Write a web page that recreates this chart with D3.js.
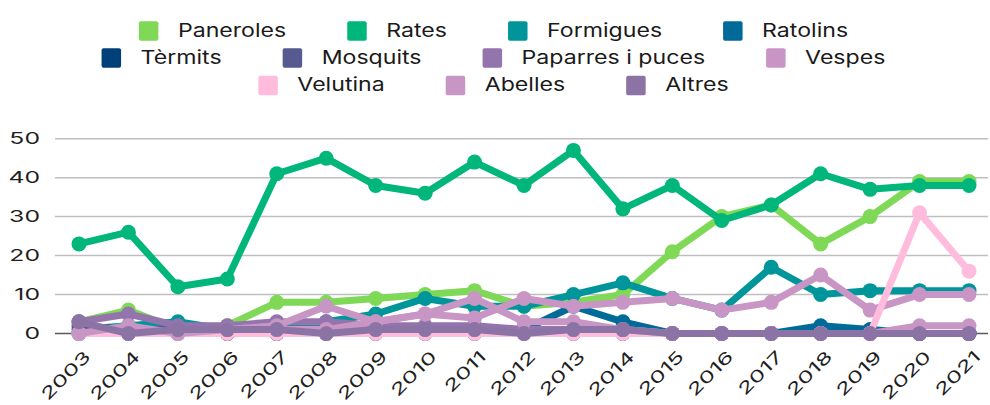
<!DOCTYPE html>
<html>
<head>
<meta charset="utf-8">
<script src="https://cdn.jsdelivr.net/npm/d3@7/dist/d3.min.js"></script>
<style>
  html, body { margin: 0; padding: 0; background: #ffffff; }
  svg { display: block; font-family: "Inter", "DejaVu Sans", sans-serif; }
</style>
</head>
<body>
<script>
// Pest control interventions per year and type
const years = ["2003","2004","2005","2006","2007","2008","2009","2010","2011","2012",
               "2013","2014","2015","2016","2017","2018","2019","2020","2021"];
const yTicks = [0, 10, 20, 30, 40, 50];

const seriesNames = ["Paneroles","Rates","Formigues","Ratolins","Tèrmits","Mosquits",
                     "Paparres i puces","Vespes","Velutina","Abelles","Altres"];

const paneroles = [3,6,1,2,8,8,9,10,11,7,8,10,21,30,33,23,30,39,39];
const rates     = [23,26,12,14,41,45,38,36,44,38,47,32,38,29,33,41,37,38,38];
const formigues = [1,2,3,1,1,3,5,9,7,7,10,13,9,6,17,10,11,11,11];
const ratolins  = [0,0,0,0,0,0,1,1,1,1,7,3,0,0,0,2,1,0,0];
const termits   = [0,0,0,0,0,0,0,0,0,0,0,0,0,0,0,0,0,0,0];
const mosquits  = [2,1,1,1,1,1,1,1,1,1,1,1,0,0,0,0,0,0,0];
const paparres  = [3,5,2,2,3,3,2,2,2,1,1,1,0,0,0,0,0,0,0];
const vespes    = [0,1,0,1,1,1,3,5,4,9,7,8,9,6,8,15,6,10,10];
const velutina  = [0,0,0,0,0,0,0,0,0,0,0,0,0,0,0,0,0,0,31,16];
const abelles   = [0,2,0,1,2,7,3,5,9,3,3,1,0,0,0,0,0,2,2];
const altres    = [3,0,1,1,1,0,1,1,1,0,1,1,0,0,0,0,0,0,0];

const seriesValues = [paneroles, rates, formigues, ratolins, termits, mosquits,
                      paparres, vespes, velutina.slice(1), abelles, altres];

const palette = ["#7fd957","#00b67a","#00959a","#006a98","#003f77","#565a91",
                 "#9474ad","#c995c5","#ffbcdc","#c896c4","#8c73a5"];

const W = 990, H = 405;
const svg = d3.select("body").append("svg").attr("width", W).attr("height", H);

const x = d3.scalePoint().domain(years).range([79, 969]);
const y = d3.scaleLinear().domain([0, 50]).range([333.5, 138.7]);
const gridLeft = 55, gridRight = 988;

// horizontal gridlines
svg.append("g")
  .selectAll("line")
  .data(yTicks.filter(d => d > 0))
  .join("line")
  .attr("x1", gridLeft).attr("x2", gridRight)
  .attr("y1", d => y(d)).attr("y2", d => y(d))
  .attr("stroke", "#bfbfbf").attr("stroke-width", 1.5);

// baseline
svg.append("line")
  .attr("x1", gridLeft).attr("x2", gridRight)
  .attr("y1", y(0)).attr("y2", y(0))
  .attr("stroke", "#595959").attr("stroke-width", 1.5);

// y axis labels (wide digits)
const digitStretch = 1.5;
const yAxis = svg.append("g")
  .attr("transform", "translate(40,0)")
  .call(d3.axisLeft(y).tickValues(yTicks).tickSize(0).tickPadding(0));
yAxis.select(".domain").remove();
yAxis.selectAll("text")
  .attr("x", 0)
  .attr("font-size", 16.5)
  .attr("font-family", "Inter, DejaVu Sans, sans-serif")
  .attr("fill", "#1f1f1f")
  .attr("transform", `scale(${digitStretch},1)`);

// x axis labels, rotated
const xAxis = svg.append("g")
  .attr("transform", `translate(0,${y(0)})`)
  .call(d3.axisBottom(x).tickSize(0).tickPadding(0));
xAxis.select(".domain").remove();
xAxis.selectAll("text")
  .attr("x", 0).attr("y", 0).attr("dy", "0.35em")
  .attr("font-size", 16.5)
  .attr("font-family", "Inter, DejaVu Sans, sans-serif")
  .attr("fill", "#1f1f1f")
  .attr("text-anchor", "end")
  .attr("transform", `translate(8,20) rotate(-45) scale(${digitStretch},1)`);

// series: line then markers, in legend order
const line = d3.line()
  .x((d, i) => x(years[i]))
  .y(d => y(d));

seriesValues.forEach((vals, s) => {
  const g = svg.append("g");
  g.append("path")
    .datum(vals)
    .attr("d", line)
    .attr("fill", "none")
    .attr("stroke", palette[s])
    .attr("stroke-width", 7)
    .attr("stroke-linejoin", "round")
    .attr("stroke-linecap", "round");
  g.selectAll("circle")
    .data(vals)
    .join("circle")
    .attr("cx", (d, i) => x(years[i]))
    .attr("cy", d => y(d))
    .attr("r", 7.5)
    .attr("fill", palette[s]);
});

// legend: three centred rows
const legendRows = [[0,1,2,3],[4,5,6,7],[8,9,10]];
const rowY = [31, 58, 85.5];
const legendCenter = 493.5;
const sw = 19.5, textOffset = 39, itemGap = 61, legendStretch = 1.25;

legendRows.forEach((row, r) => {
  const rowG = svg.append("g");
  let cursor = 0;
  row.forEach(s => {
    const item = rowG.append("g").attr("transform", `translate(${cursor},0)`);
    item.append("rect")
      .attr("x", 0).attr("y", -sw / 2)
      .attr("width", sw).attr("height", sw)
      .attr("rx", 2)
      .attr("fill", palette[s]);
    const t = item.append("text")
      .attr("font-size", 18.5)
      .attr("fill", "#1a1a1a")
      .attr("transform", `translate(${textOffset},5.5) scale(${legendStretch},1)`)
      .text(seriesNames[s]);
    const w = t.node().getComputedTextLength() * legendStretch;
    cursor += textOffset + w + itemGap;
  });
  const total = cursor - itemGap;
  rowG.attr("transform", `translate(${legendCenter - total / 2},${rowY[r]})`);
});
</script>
</body>
</html>
